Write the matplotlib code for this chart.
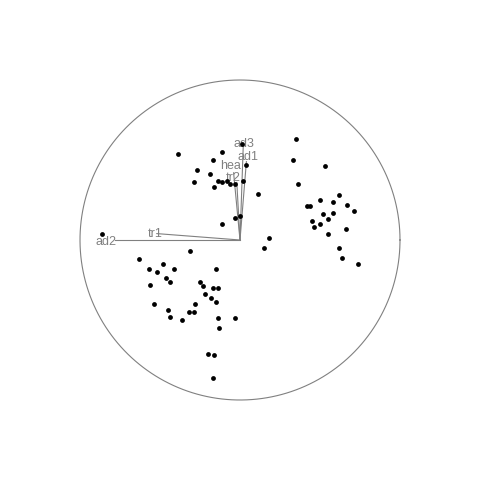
import matplotlib
matplotlib.use('Agg')
import matplotlib.pyplot as plt
import numpy as np

# scores (PC1, PC2), rescaled so the correlation circle has radius 1
pc1 = [-0.39, -0.11, -0.17, -0.27, -0.19, -0.29, -0.14, -0.11, -0.08, -0.06,
       -0.03, 0.02, -0.16, 0.11, -0.03, 0.00, -0.11, 0.01, 0.04, 0.18,
       0.15, -0.86,
       -0.31, -0.63, -0.48, -0.57, -0.52, -0.41, -0.15, -0.46, -0.44, -0.56,
       -0.25, -0.23, -0.17, -0.14, -0.22, -0.18, -0.15, -0.28, -0.54, -0.45,
       -0.44, -0.32, -0.29, -0.36, -0.14, -0.03, -0.13, -0.20, -0.16, -0.17,
       0.35, 0.33, 0.53, 0.36, 0.62, 0.50, 0.58, 0.42, 0.44, 0.67,
       0.71, 0.52, 0.58, 0.45, 0.55, 0.50, 0.46, 0.66, 0.55, 0.62,
       0.64, 0.74]
pc2 = [0.54, 0.55, 0.50, 0.44, 0.41, 0.36, 0.37, 0.36, 0.37, 0.35,
       0.35, 0.37, 0.33, 0.29, 0.14, 0.15, 0.10, 0.60, 0.47, 0.01,
       -0.05, 0.04,
       -0.07, -0.12, -0.15, -0.18, -0.20, -0.18, -0.18, -0.24, -0.26, -0.28,
       -0.26, -0.29, -0.30, -0.30, -0.34, -0.36, -0.39, -0.40, -0.40, -0.44,
       -0.48, -0.45, -0.45, -0.50, -0.49, -0.49, -0.55, -0.71, -0.72, -0.86,
       0.63, 0.50, 0.46, 0.35, 0.28, 0.25, 0.24, 0.21, 0.21, 0.22,
       0.18, 0.16, 0.17, 0.12, 0.13, 0.10, 0.08, 0.07, 0.04, -0.05,
       -0.11, -0.15]

# variable loadings and where their names sit
var_names = ['ad3', 'ad1', 'hea', 'tr2', 'tr1', 'ad2']
load1 = [0.02, 0.04, -0.04, -0.02, -0.52, -0.78]
load2 = [0.58, 0.49, 0.42, 0.36, 0.04, 0.00]
lab1 = [0.025, 0.05, -0.06, -0.04, -0.53, -0.84]
lab2 = [0.60, 0.52, 0.46, 0.39, 0.04, -0.01]

grey = '#808080'

fig = plt.figure(figsize=(4.8, 4.8), dpi=100)
ax = fig.add_axes([0, 0, 1, 1])
ax.set_xlim(-1.5, 1.5)
ax.set_ylim(-1.5, 1.5)
ax.set_aspect('equal')
ax.axis('off')

t = np.linspace(0, 2 * np.pi, 400)
ax.plot(np.cos(t), np.sin(t), color=grey, lw=0.8)

for nm, a, b, la, lb in zip(var_names, load1, load2, lab1, lab2):
    ax.plot([0, a], [0, b], color=grey, lw=0.8)
    ax.text(la, lb, nm, color=grey, fontsize=9,
            family='Liberation Sans', ha='center', va='center')

ax.scatter(pc1, pc2, s=12, color='black', lw=0, zorder=3)

plt.savefig('out.png', dpi=100)
